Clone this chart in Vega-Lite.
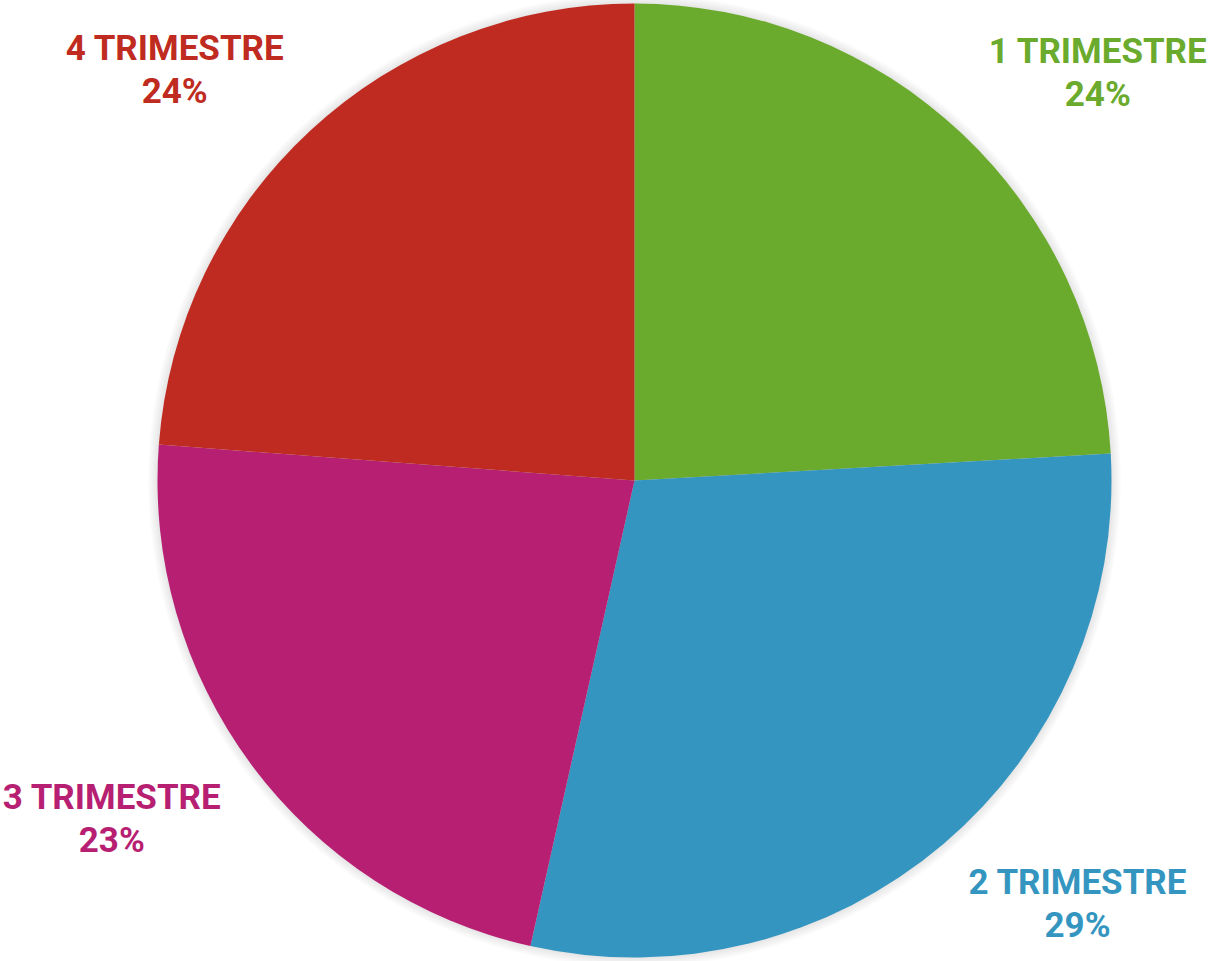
{
  "$schema": "https://vega.github.io/schema/vega-lite/v6.json",
  "width": 1149,
  "height": 961,
  "autosize": {"type": "none"},
  "padding": {"left": 60, "top": 0, "right": 0, "bottom": 0},
  "background": "white",
  "config": {"view": {"stroke": null}},
  "data": {
    "values": [
      {"trimestre": "1 TRIMESTRE", "porcentaje": 24.1},
      {"trimestre": "2 TRIMESTRE", "porcentaje": 29.4},
      {"trimestre": "3 TRIMESTRE", "porcentaje": 22.7},
      {"trimestre": "4 TRIMESTRE", "porcentaje": 23.8}
    ]
  },
  "transform": [
    {"calculate": "datum.trimestre + '\\n' + format(datum.porcentaje, '.0f') + '%'", "as": "etiqueta"}
  ],
  "layer": [
    {
      "transform": [{"aggregate": [{"op": "sum", "field": "porcentaje", "as": "total"}]}],
      "mark": {
        "type": "arc",
        "theta": 0,
        "theta2": 6.2832,
        "outerRadius": 487,
        "fill": {
          "gradient": "radial",
          "x1": 0.5, "y1": 0.5, "r1": 0,
          "x2": 0.5, "y2": 0.5, "r2": 0.5,
          "stops": [
            {"offset": 0, "color": "rgba(0,0,0,0.18)"},
            {"offset": 0.975, "color": "rgba(0,0,0,0.12)"},
            {"offset": 1, "color": "rgba(0,0,0,0)"}
          ]
        }
      },
      "encoding": {}
    },
    {
      "mark": {"type": "arc", "outerRadius": 477},
      "encoding": {
        "theta": {"field": "porcentaje", "type": "quantitative", "stack": true},
        "color": {
          "field": "trimestre",
          "type": "nominal",
          "scale": {
            "domain": ["1 TRIMESTRE", "2 TRIMESTRE", "3 TRIMESTRE", "4 TRIMESTRE"],
            "range": ["#6aaa2d", "#3496c0", "#b71f72", "#bf2b20"]
          },
          "legend": null
        }
      }
    },
    {
      "mark": {
        "type": "text",
        "radius": 510,
        "font": "Roboto",
        "fontWeight": "bold",
        "fontSize": 35,
        "lineHeight": 43,
        "lineBreak": "\n",
        "align": "center",
        "dx": {"expr": "sin(scale('theta', 0.5 * datum.porcentaje_start + 0.5 * datum.porcentaje_end)) >= 0 ? 113 : -113"},
        "baseline": {"expr": "cos(scale('theta', 0.5 * datum.porcentaje_start + 0.5 * datum.porcentaje_end)) >= 0 ? 'bottom' : 'top'"},
        "dy": {"expr": "cos(scale('theta', 0.5 * datum.porcentaje_start + 0.5 * datum.porcentaje_end)) >= 0 ? -40 : -3"}
      },
      "encoding": {
        "theta": {"field": "porcentaje", "type": "quantitative", "stack": true},
        "color": {"field": "trimestre", "type": "nominal", "legend": null},
        "text": {"field": "etiqueta", "type": "nominal"}
      }
    }
  ]
}
